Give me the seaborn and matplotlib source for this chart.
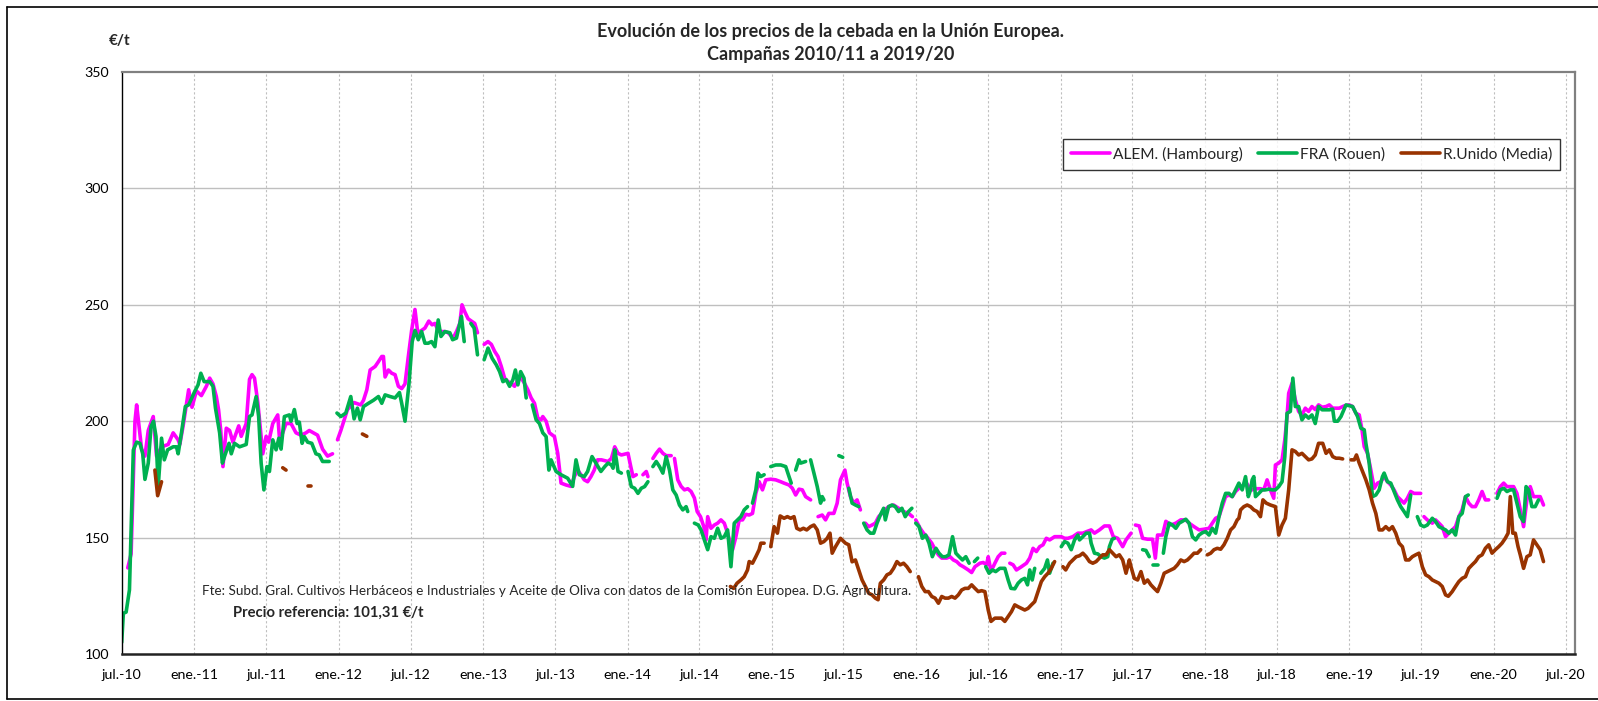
import numpy as np
import pandas as pd
import matplotlib
matplotlib.use("Agg")
import matplotlib.pyplot as plt
import matplotlib.dates as mdates
from matplotlib.lines import Line2D
import seaborn as sns

# ---------------- DATA (week offset from 1 Jul 2010, price €/t); None = gap ----------------
start_date = "2010-07-01"
series_names = ["ALEM. (Hambourg)", "FRA (Rouen)", "R.Unido (Media)"]
series_colors = ["#FF00FF", "#00B050", "#993300"]

alem = [(2.2,137),(3.4,143),(4.8,200),(5.4,207),(7.2,188),(8.4,185),(9.6,196),(11.4,202),(12.6,185),(14.4,189),
(16.8,190),(18.6,195),(20.4,192),(21,190),(22.2,198),(24.2,213.5),(25.4,206),(27,213),(28.8,211),(30.6,215),
(31.8,218.5),(33,216),(34.2,210.6),(35,205),(35.8,196),(36.6,180.5),(37.8,197),(39,196),(40.2,191),(42.3,198),
(43.2,193.5),(45,199),(46.2,218),(47.1,220),(48,218.5),(49.2,208),(51,186),(52.2,193.5),(53.1,191),(54.6,199),
(56.4,202.7),(57,193),(58.2,195),(59.4,199),(61.2,199),(63,195),(64.8,194),(66.6,195),(67.8,196),(70.8,194),
(72.6,188),(74.4,185),(76.2,186),None,
(78,192),(79.2,196),(81.6,205),(84,208),(86.4,207),(87.4,209),(88.6,213.5),(89.8,222),(91.6,223.5),(92.8,225.6),
(94,227.8),(94.6,227.8),(95.2,219),(96.4,222),(97.6,220.6),(98.8,220),(100,215),(101.2,214),(102.4,216),(103.6,227.8),
(104.8,239),(106,248),(107,238),(108.4,239),(109.6,240),(111,243),(112.2,241.4),(113.2,242),(114.4,239),(115.6,238.5),
(116.8,238.5),(118,238),(119.8,235.7),(121,238.5),(122.2,242),(123,250),(124,247),(125.2,244),(126.4,243),(127.6,242),
(128.6,238),None,
(131,233),(132.4,234.2),(133.6,233),(134.8,230),(136,227.8),(137.2,223.5),(138.4,218.5),(139.6,217),(140.8,216.3),
(142,215),(143.2,217.8),(144.4,218.5),(145.6,216.3),(146.8,213.5),(148,210),(149.2,207.7),(150.4,201.3),(151.6,200.6),
(152.2,202),(153.4,200),(154.6,195),(156.4,193.4),(157.6,186.2),(158.8,173.4),(160.6,172.6),(162.4,172),(163.6,176.2),
(164.8,179),(166,177),(167.2,174.8),(168.4,174),(169.6,176.2),(170.8,179),(172,183.4),(173.4,183.4),(175.8,182.7),
(177,184),(178.2,189),(179.4,186.2),(180.6,185.5),(183,186.2),(184,180.5),(184.8,176.2),(186,177),None,
(188.4,177),(189.6,178.4),(190.2,176.2),None,
(192,184),(193.2,186.2),(194.4,188),(195.6,186.2),(196.8,185.2),(198.6,185.2),None,
(199.8,184),(201,174.8),(202.2,172),(203.4,170.5),(204.6,171),(205.8,169.8),(207,167),(208,161.2),(209.2,159),
(210.4,154.7),(211.2,149),(211.8,159),(213,154),(214.2,155.4),(215.4,156.2),(216.6,157.6),(217.8,156.2),(219,151.9),
(220,147.6),(220.8,144.8),(222,150.4),(223.2,157.6),(224.4,157.6),(225.6,160),(226.8,159.7),(228,160.4),(229.2,169),
(230.4,174),(231.6,170.5),(232.8,174.8),(234.6,175.1),(236.4,174.8),(238.2,174),(239.4,173.4),(241.2,172.6),
(242.4,171.2),(243.6,168.3),(244.8,170.8),(246,170.5),(247.2,167.6),(249,166.2),None,
(251.7,159),(253.2,159.7),(254.4,157.6),(255.6,160.4),(257.4,160.4),(258.6,164.8),(259.8,174.8),(261.4,179),
(262.2,173.4),(263.4,167.6),(264.6,164.8),(265.8,166.2),(267,161.9),None,
(268.8,156.2),(270,154.7),(271.2,155.4),(272.4,156.2),(273.6,159),(274.8,160.4),(276,162),(277.2,163.3),(279,164),
(280.8,162.6),(282.6,161.2),(284.4,160.4),(285.8,159),None,
(287,157.6),(288.6,154),(289.8,151.9),(291,150.4),(292.8,147.6),(294,144.8),(295.2,142.6),(296.4,141.2),(298.2,141.2),
(299.4,141.8),(300.6,140.4),(301.8,139.7),(303,138.3),(304.2,137.5),(306,136.1),(307.2,135),(308.4,137.5),(310.2,139),
(311.4,139.3),(312.6,138.3),(313.2,141.8),(314.2,135.5),(315.6,139),(316.8,141.8),(318,143.3),(319.2,143.3),None,
(321,139),(322.2,138.3),(323.4,136.1),(325.2,137.5),(327,139),(328.2,141.2),(329.4,145.4),(330.6,144),(331.8,146.1),
(333,146.9),(334.2,149.7),(335.4,149),(337.2,150.4),(339.6,150.4),(340.8,149.7),(342,149.7),(343.8,150.4),(345.6,151.9),
(347.4,151.9),(348.6,152.5),(350.4,153.3),(351.6,151.9),(353.4,153.3),(355.2,155),(357,155),(358.4,150.4),(360,149.7),
(361.8,146.1),(363,149),(364.8,151.9),None,
(366.4,155.4),(367.8,155),(369,149.7),(370.8,149.3),(372.6,149.3),(373.6,141.2),(374.4,151.1),(376.2,151.1),(377.4,157),
(379.2,155.4),(381,156.2),(382.8,157.6),(384.6,157.6),(385.8,156.2),(387.6,154.7),(389.4,153.3),(391.2,153.6),(393,154),
(394.2,156.2),(395.4,158.3),(396.6,159),(397.8,163.3),(399,167.6),(400.2,168.3),(401.4,167.6),(402.6,169.8),(403.8,171.2),
(405,171.9),(406.2,174),(407.4,171.9),(408.6,170.5),(409.8,171),(411.6,171),(412.8,170.5),(414,174.8),(415.2,170.5),
(416.4,166.9),(417,181.2),(418.2,182),(419.4,183.4),(420.4,192),(421.2,202),(421.8,212),(423,216.3),(424.2,209.2),
(425.4,204.2),(426.6,202.7),(427.8,205.6),(429,204.2),(430.2,206.3),(431.4,205),(432.6,207),(433.9,206),(435.3,206.3),
(436.5,207),(437.7,205.6),(438.9,205.6),(440.1,205.6),(441.9,206.6),(443.7,207),(444.9,206.3),(446.1,203.4),(447.3,202.7),
(448.3,196.3),(449.1,189.1),(450.3,186.2),(451.5,179),(452.7,171.2),(453.9,173.4),(455.1,174),(456.3,176.2),(457.5,174),
(458.7,172.6),(459.9,170.5),(461.1,167.6),(462.3,166.2),(463.5,164.8),(464.7,166.9),(465.9,169.8),(467.1,169),(468.3,169),
(469.5,169),None,
(470.7,159),(471.9,157.6),(473.7,156.2),(474.9,157.6),(476.1,156.2),(477.3,154.7),(478.5,150.4),(479.7,151.9),(480.9,153.3),
(482.1,154.7),(483.3,159),(484.5,162),(485.7,167.6),(486.9,164.8),(488.1,163.3),(489.3,163.3),(490.5,166.2),(491.7,169.8),
(492.9,166.2),(494.1,166.2),None,
(497.1,169),(498.3,171.9),(499.5,173.4),(500.7,171.9),(501.9,171.9),(503.1,171.9),(504.3,169),(505.5,162),(506.7,154.7),
(507.9,166.2),(509.1,171.9),(510.3,167.6),(511.5,167.6),(512.7,167.6),(513.9,164)]

fra = [(0,105),(0.6,117.5),(1.6,118),(2.8,127.5),(4.2,187.6),(5.4,191),(6.6,190.5),(7.6,186),(8.4,175),(9.6,182),
(10.6,197.7),(11.5,200),(12.4,193.4),(13.2,172),(14.4,192.7),(15.4,183.4),(16.6,187.7),(18.6,189),(19.8,189),(20.4,186),
(21.6,195),(23,206.3),(24.2,207),(26.4,212.8),(27.6,215.6),(28.6,220.6),(29.8,217),(31.8,217),(33,215),(33.9,205.6),
(35.4,195),(36.4,182),(37.2,185),(38.8,190.5),(39.6,186),(40.8,190.5),(42.6,189),(45,190),(46.2,202),(47.1,202.7),
(48.6,210.6),(49.5,202),(50.4,182),(51.4,170.5),(52.5,180.5),(53.4,178.4),(54.6,192),(55.8,187.7),(56.8,192.7),(57.6,188),
(58.8,202),(60.6,202.7),(61.2,200),(62.4,205),(63.4,199),(64.2,199.6),(65.2,190.5),(66,193.4),(67.2,191),(68.7,190.5),
(70.2,186),(71.4,185.5),(72.6,182.7),(75,182.7),None,
(77.8,203.5),(79.2,202),(81,203.5),(82.8,210.6),(84,201),(85.2,205.6),(86.2,200.6),(87.4,206.3),(89.2,207.7),(91,209),
(92.8,210.6),(94,207.7),(95.2,211.3),(97,210.6),(98.8,210),(100.4,212.3),(101.2,207.7),(102.4,200),(103.8,215.6),(105,234.2),
(106,239),(107.2,235),(108.4,238.5),(109.6,233.5),(110.8,233.5),(112,234.2),(113.2,232),(114.4,243.5),(115.4,236.4),
(116.8,238.5),(118.6,238),(119.6,235),(121,235.7),(122.2,242),(122.8,245),(123.8,234.2),None,
(126.2,242),(127.4,240),(128.6,228.5),None,
(131,226.4),(132.4,231.4),(133.9,227),(135.4,224.2),(136.6,221.3),(137.8,217),(139,217.8),(140.2,215),(141.4,217.8),
(142.3,222),(143.2,215.6),(144.2,221.3),(145.4,218.5),(146.2,210),None,
(148.4,207),(149.8,200.6),(151,199),(152.2,195),(153.4,193.4),(154.4,179),(155.2,183.4),(157,178.4),(158.8,177),
(161.2,175.5),(163,172),(164.2,183.4),(165.4,177),(167.2,176.2),(168.4,178.4),(170,184.8),(171.4,182),(173.2,178.4),
(174.6,180.5),(175.8,182),(177,181.2),(177.6,179.8),(178.2,187.7),(178.8,183.4),(179.4,178.4),(180.6,177.7),None,
(183,178.4),(184.2,171.9),(185.4,171.2),(186.6,169),(187.8,171.2),(189,171.9),(190.2,174),None,
(192,180.5),(193.2,182.7),(194.4,180.5),(195.6,177.7),(196.8,184.8),(198,179),(199.2,170.5),(200.4,168.3),(201.6,164),
(202.8,161.9),(204,163.3),(204.6,161.2),None,
(207,156.2),(208.4,155.4),(209.4,153.3),(210.6,149),(211.8,144.8),(213,150.4),(214.2,149.7),(215.4,154),(216.6,149.7),
(217.8,150.4),(219,153.3),(220.2,137.5),(221.4,156.2),(222.6,157.6),(223.8,159),(225,161.9),(226.2,163.3),None,
(228,164.8),(229.2,170.5),(230,177.7),(231,176.2),(232.2,177),None,
(234.6,180.5),(236.4,181.2),(238.2,181.2),(240,180.5),(241.2,176.2),(242,173.4),None,
(243.6,179),(244.8,183.4),(245.4,182),(247.2,182.7),None,
(249,183.4),(250.2,177.7),(251.4,171.9),(252.6,164.8),(253.2,167.6),(253.8,166.2),None,
(259.2,185.2),(260.6,184.5),None,
(262.8,171.2),(264,164.8),(265.2,164),(266.4,163.3),None,
(268.2,156.2),(269.4,153.3),(270.6,151.9),(271.8,151.9),(273,156.2),(274.2,159.7),(275.4,162.6),(276,157.6),(277.2,163.3),
(278.4,164),(279.6,163.3),(280.8,161.2),(282,162.6),(283.2,159),(284.4,161.2),(285.6,162.6),None,
(287,156.2),(288.2,154.7),(289.4,149.7),(290.6,151.1),(291.8,147.6),(293,141.8),(294.3,145.4),(295.4,143.3),(296.6,141.8),
(297.8,141.8),(299,142.6),(300.3,150.4),(301.5,143.3),(302.7,141.8),(303.9,140.4),(305.1,141.8),(306.3,139),None,
(308.2,139.7),(309.4,141.2),None,
(312.3,137.5),(313.5,134.7),(314.7,136.1),(315.9,135.4),(317.4,136.8),(319.2,136.8),(320.4,131.8),(321.4,128.2),(322.8,128),
(324,130.4),(325.2,131.8),(326.4,132.5),(327.4,129.7),(328.2,136.1),(329.1,131.8),(330,136.8),None,
(332.2,134.7),(333.6,136.8),(334.6,140.4),(335.4,134.7),(336.6,139),None,
(339.6,146.1),(340.8,148.3),(342,147.6),(343.2,144.8),(344.4,149),(345.6,151.1),(346.2,149),(347.4,150.4),(348.6,151.9),
(349.8,151.9),(350.4,147.6),(351.6,143.3),(352.8,143),(354,141.8),(355.2,141.2),(356.4,141.8),(357,146.1),(358,149.3),
(358.8,149.7),None,
(369,144.8),(370.2,144.5),(371.4,141.8),None,
(372.9,138.3),(374.4,138.3),None,
(376.5,143.3),(377.4,150.4),(378.6,156.2),(379.8,155.4),(381,154),(382.2,156.2),(383.4,157),(384.6,157.9),(385.8,156.2),
(387,150.4),(388.2,149),(389.4,151.1),(390.6,152.1),(391.8,152.6),(393,151.1),(394.2,154),(395.4,151.9),(396.6,159),
(397.8,164.8),(399,169),(400.2,169),(401.4,167.6),(402.6,170.5),(403.8,173.4),(405,170.5),(406.2,176.2),(407.2,167.6),
(408,170.5),(408.6,174.8),(409.2,176.2),(409.8,167.6),(411,169),(412.2,170.5),(413.4,170.5),(414.6,170.8),(415.8,170.5),
(417,170.5),(418.2,171.9),(419.4,174),(420.4,184.8),(421.2,203.4),(422.4,204.2),(423.3,218.5),(424.2,206.3),(425.4,206.3),
(426.6,200.6),(427.8,202.7),(429,201.3),(430.2,202.7),(431.4,199),(432.6,206.3),(433.9,204.9),(435.3,204.9),(436.5,204.9),
(437.7,205.2),(438.3,200),(439.5,200),(440.7,202),(442.5,207),(444.9,206.3),(446.7,202),(447.9,197),(449.1,196.3),
(449.7,190.5),(450.9,182),(452.1,167.6),(453.3,168.3),(454.5,170.5),(455.7,176.2),(456.3,177.7),(457.5,174),(458.7,173.4),
(459.9,169.8),(461.1,166.2),(462.3,163.3),(463.5,161.2),(464.7,159),(465.9,168.3),None,
(468.3,159),(469.5,155.4),(470.7,154.7),(471.9,155.4),(473.7,158.3),(474.9,156.9),(476.1,154.7),(477.3,154),(478.5,153.3),
(479.7,151.9),(480.9,153.3),(482.1,151.1),(483.3,159),(484.5,160.4),(485.7,167.6),(486.7,168.3),None,
(497.1,166.9),(498.3,170.5),(499.5,171.2),(500.7,169.8),(501.9,170.5),(503.1,170.5),(504.3,164.8),(505.5,159),(506.7,156.9),
(507.6,171.9),(508.5,170.5),(509.7,163.3),(510.9,163.3),(512.1,166.2)]

runido = [(12,179),(13,168),(14.4,174),None,
(58.2,180),(59.4,179),None,
(67.2,172),(68.4,172),None,
(87,194.5),(88.6,193.5),None,
(220,129),(221.2,128.2),(222.4,130.4),(223.8,131.8),(225,133.2),(226.2,136.1),(226.8,139.7),(228,139),(229.2,141.8),
(230.4,144.8),(231,147.6),(232.2,147.6),None,
(234.6,146.1),(235.8,154.7),(237,151.9),(238,159.3),(239.4,158.3),(240.6,159),(241.8,158.3),(243,159),(244,154),
(245.2,153.3),(246.4,154),(247.6,153.3),(249,154.7),(250.2,155.4),(251.4,153.3),(252.6,147.6),(253.8,148.3),(255,149.7),
(256,151.9),(256.8,143.3),(258,146.1),(259.8,149.7),(261.6,147.6),(262.8,146.9),(264,139.6),(265.2,140.4),(266.4,136.1),
(267.6,131.8),(268.8,129),(270,126.1),(271.2,125.4),(272.4,124),(273.4,123.3),(274.2,130.4),(275.4,131.8),(276.6,134),
(277.8,134.7),(279,136.8),(280.2,139.7),(281.4,138.3),(282.6,139),(283.8,137.5),(285,135.4),None,
(288,133.2),(289.2,129),(290.4,126.8),(291.6,126.8),(292.8,124.7),(294,124),(295.2,121.8),(296.4,124.7),(297.6,124),
(298.8,124),(300,124.7),(301.2,124),(302.4,125.4),(303.6,127.5),(304.8,128.2),(306,128.2),(307.2,129.7),(308.4,128.2),
(309.6,126.8),(310.8,127.2),(312,126.8),(313.2,118.9),(314.2,114),(315.6,115.4),(316.8,115.4),(318,115.4),(319.2,114),
(320.4,116.1),(321.6,118.2),(322.8,121.1),(324,120.3),(325.2,119.6),(326.4,118.9),(327.6,119.6),(328.8,121.1),(330,122.5),
(331.2,126.8),(332.4,131.1),(333.6,133.2),(334.8,134.7),(336,136.8),(337.2,139.7),None,
(340.2,137.5),(341.2,136.1),(342.6,139),(343.8,140.4),(345,141.8),(346.2,142.2),(347.4,143.3),(348.6,141.8),(349.8,139.7),
(351,139),(352.2,139.7),(353.4,141.2),(354.6,142.6),(355.8,142.6),(357,144.8),(358.2,143.3),(359.4,141.8),(360.6,142.6),
(361.8,140.4),(363,134.7),(364.2,140.4),(364.8,137.5),(366,132.5),(367.2,131.8),(368.4,135.4),(369.6,130.4),(370.8,131.8),
(372,129.7),(373.2,128.2),(374.4,126.8),(375.6,130.4),(376.8,134.7),(378,135.4),(379.2,136.1),(380.4,136.8),(381.6,138.3),
(382.8,140.4),(384,139.7),(385.2,140.4),(386.4,141.8),(387.6,143.3),(388.8,143.3),(390,144.8),None,
(392.4,142.6),(393.6,143.3),(394.8,144.8),(396,145.4),(397.2,145),(398.4,146.9),(399.6,149.7),(400.8,153.3),(402,154.7),
(403.2,157.6),(403.8,158.3),(404.4,161.9),(405.6,163.3),(406.8,164),(408,163.3),(409.2,161.9),(410.4,161.2),(411.6,159),
(412.5,166.2),(413.7,164.8),(415.2,164),(417,163.3),(418.2,151.1),(419.4,155.4),(420.6,158.3),(421.8,170.5),(423,187.7),
(424.2,187),(425.4,185.5),(426.6,186.2),(427.8,184.8),(429,183.4),(430.2,183.8),(431.4,185.5),(432.6,190.5),(434.1,190.5),
(435.3,186.2),(436.5,187.7),(437.7,184.8),(438.9,184.1),(440.1,184.1),(441.3,183.8),None,
(444.3,183.4),(445.5,183.4),(446.3,185.5),(447.3,182),(448.5,178.4),(449.7,174.8),(450.9,170.5),(452.1,164.8),(453.3,160.4),
(454.5,153.3),(455.7,153.3),(456.9,154.7),(458.1,153.3),(459.3,154.7),(460.5,151.9),(461.7,147.6),(462.9,146.1),(464.1,140.4),
(465.3,140.4),(466.5,141.8),(467.7,142.6),(468.9,143.3),(470.1,137.5),(471.3,134),(472.5,133.2),(473.7,131.8),(474.9,131.1),
(476.1,130.4),(477.3,129),(478.5,125.4),(479.5,124.8),(480.9,126.8),(482.1,129),(483.3,131.1),(484.5,132.5),(485.7,133.2),
(486.9,136.8),(488.1,138.3),(489.3,139.7),(490.5,141.8),(491.7,142.6),(492.9,145.4),(494.1,146.9),(495.3,143.3),(496.5,144.8),
(497.7,146.1),(498.9,147.6),(500.1,149.7),(501.1,151.9),(501.9,167.6),(502.8,151.9),(503.7,151.9),(504.7,146.1),(505.5,142.6),
(506.7,136.8),(507.9,141.8),(509.1,142.6),(510.3,149),(511.5,146.9),(512.7,144.8),(513.9,139.7)]

y_ticks = [100, 150, 200, 250, 300, 350]
x_tick_dates = pd.date_range("2010-07-01", "2020-07-01", freq="6MS")
x_tick_labels = [("jul.-" if d.month == 7 else "ene.-") + d.strftime("%y") for d in x_tick_dates]

title_line1 = "Evolución de los precios de la cebada en la Unión Europea."
title_line2 = "Campañas 2010/11 a 2019/20"
unit_text = "€/t"
source_text = ("Fte: Subd. Gral. Cultivos Herbáceos e Industriales y Aceite de Oliva con datos de la "
               "Comisión Europea. D.G. Agricultura.")
ref_text = "Precio referencia: 101,31 €/t"

# ---------------- build long table with segment ids ----------------
rows = []
t0 = pd.Timestamp(start_date)
for name, pts in zip(series_names, [alem, fra, runido]):
    seg = 0
    for p in pts:
        if p is None:
            seg += 1
            continue
        rows.append({"fecha": t0 + pd.Timedelta(days=p[0] * 7), "precio": p[1],
                     "serie": name, "seg": f"{name}_{seg}"})
df = pd.DataFrame(rows)

# ---------------- figure ----------------
sns.set_theme(style="white")
plt.rcParams["font.family"] = ["Lato", "DejaVu Sans"]

W, H = 1598, 701
fig = plt.figure(figsize=(W / 100, H / 100), dpi=100)
x0, x1, ytop, ybot = 121.7, 1575, 72, 654
ax = fig.add_axes([x0 / W, 1 - ybot / H, (x1 - x0) / W, (ybot - ytop) / H])

sns.lineplot(data=df, x="fecha", y="precio", hue="serie", units="seg", estimator=None,
             hue_order=series_names, palette=series_colors, linewidth=2.6, ax=ax, sort=True,
             legend=False)

ax.set_xlim(pd.Timestamp("2010-07-01"), pd.Timestamp("2020-07-25"))
ax.set_ylim(100, 350)
ax.set_yticks(y_ticks)
ax.set_xticks(x_tick_dates)
ax.set_xticklabels(x_tick_labels)
ax.set_xlabel("")
ax.set_ylabel("")

ax.grid(False)
for yv in y_ticks[1:-1]:
    ax.axhline(yv, color="#BFBFBF", lw=1.0, zorder=0)
for d in x_tick_dates[1:]:
    ax.axvline(d, color="#BFBFBF", lw=0.8, ls=(0, (2, 2)), zorder=0)

ax.tick_params(axis="both", labelsize=10.2, colors="black", length=4, width=1, direction="out")
ax.tick_params(axis="x", pad=7)
ax.tick_params(axis="y", pad=5)
for s in ["top", "right"]:
    ax.spines[s].set_color("#808080")
    ax.spines[s].set_linewidth(1.6)
ax.spines["left"].set_color("black")
ax.spines["left"].set_linewidth(1.0)
ax.spines["bottom"].set_color("#222222")
ax.spines["bottom"].set_linewidth(1.8)

handles = [Line2D([0], [0], color=c, lw=2.6) for c in series_colors]
leg = ax.legend(handles, series_names, ncol=3, loc="upper right",
                bbox_to_anchor=((1560 - x0) / (x1 - x0), 1 - (139 - ytop) / (ybot - ytop)),
                borderaxespad=0, frameon=True, fancybox=False, fontsize=11.2,
                handlelength=2.5, handletextpad=0.2, columnspacing=1.0, borderpad=0.5)
leg.get_frame().set_edgecolor("black")
leg.get_frame().set_linewidth(1.0)

fig.text(830.5 / W, 1 - 31 / H, title_line1, ha="center", va="center", fontsize=13,
         fontweight="bold")
fig.text(830.5 / W, 1 - 54.5 / H, title_line2, ha="center", va="center", fontsize=13,
         fontweight="bold")
fig.text(120 / W, 1 - 41 / H, unit_text, ha="center", va="center", fontsize=11, fontweight="bold")
fig.text(202 / W, 1 - 591 / H, source_text, ha="left", va="center", fontsize=9.7)
fig.text(233 / W, 1 - 613 / H, ref_text, ha="left", va="center", fontsize=10.6, fontweight="bold")

# outer chart-area border
for (xa, ya, xb, yb) in [(7, 7, W, 7), (7, 7, 7, 699), (7, 699, W, 699)]:
    fig.add_artist(Line2D([xa / W, xb / W], [1 - ya / H, 1 - yb / H], color="black", lw=1.2,
                          transform=fig.transFigure))

fig.savefig("out.png", dpi=100)
